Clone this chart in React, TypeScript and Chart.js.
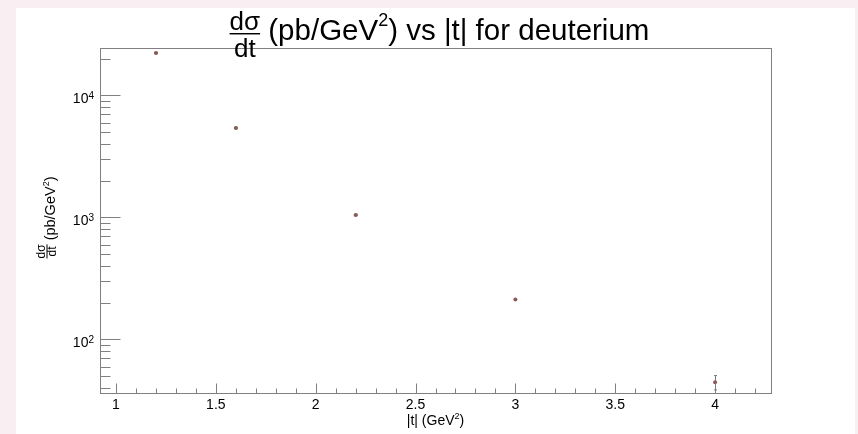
import React, { useEffect, useRef } from "react";
import { Chart, registerables } from "chart.js";

Chart.register(...registerables);

// Differential cross section dσ/dt for deuterium versus |t|
const tValues = [1.2, 1.6, 2.2, 3.0, 4.0];
const crossSection = [22300, 5420, 1048, 213, 44.6];
const crossSectionErr = [300, 70, 14, 3, 6];

// Axis ticks
const xMajorTicks = [1, 1.5, 2, 2.5, 3, 3.5, 4];
const xTickLabels = ["1", "1.5", "2", "2.5", "3", "3.5", "4"];
const yDecades = [100, 1000, 10000];
const yTickExponents = ["2", "3", "4"];

const X_MIN = 0.92;
const X_MAX = 4.28;
const Y_MIN = 36.4;
const Y_MAX = 24500;

const PAGE_BG = "#f9eef2";
const FRAME = "#808080";
const MARKER = "#8b5a52";
const ERR = "#7a7a7a";
const FONT = "'Liberation Sans', Arial, Helvetica, sans-serif";

type Part = { text: string; size: number; dy?: number };

function partsWidth(ctx: CanvasRenderingContext2D, parts: Part[]) {
  let w = 0;
  for (const p of parts) {
    ctx.font = `${p.size}px ${FONT}`;
    w += ctx.measureText(p.text).width;
  }
  return w;
}

function drawParts(ctx: CanvasRenderingContext2D, parts: Part[], x: number, y: number) {
  let cx = x;
  ctx.textAlign = "left";
  ctx.textBaseline = "alphabetic";
  for (const p of parts) {
    ctx.font = `${p.size}px ${FONT}`;
    ctx.fillText(p.text, cx, y + (p.dy || 0));
    cx += ctx.measureText(p.text).width;
  }
  return cx;
}

// Stacked fraction: numerator over denominator with a bar between
function drawFraction(
  ctx: CanvasRenderingContext2D,
  num: string,
  den: string,
  size: number,
  x: number,
  numBase: number,
  barY: number,
  denBase: number
) {
  ctx.font = `${size}px ${FONT}`;
  const wn = ctx.measureText(num).width;
  const wd = ctx.measureText(den).width;
  const w = Math.max(wn, wd);
  ctx.textAlign = "left";
  ctx.textBaseline = "alphabetic";
  ctx.fillText(num, x + (w - wn) / 2, numBase);
  ctx.fillText(den, x + (w - wd) / 2, denBase);
  ctx.fillRect(x, barY, w, Math.max(1, size / 18));
  return w;
}

const errorBars = {
  id: "errorBars",
  beforeDatasetsDraw(chart: any) {
    const { ctx, scales } = chart;
    ctx.save();
    ctx.strokeStyle = ERR;
    ctx.lineWidth = 1;
    tValues.forEach((t, i) => {
      const px = Math.round(scales.x.getPixelForValue(t)) + 0.5;
      const y1 = scales.y.getPixelForValue(crossSection[i] + crossSectionErr[i]);
      const y2 = scales.y.getPixelForValue(crossSection[i] - crossSectionErr[i]);
      ctx.beginPath();
      ctx.moveTo(px, y1);
      ctx.lineTo(px, y2);
      ctx.moveTo(px - 1.5, y1);
      ctx.lineTo(px + 1.5, y1);
      ctx.moveTo(px - 1.5, y2);
      ctx.lineTo(px + 1.5, y2);
      ctx.stroke();
    });
    ctx.restore();
  },
};

const framePlugin = {
  id: "rootFrame",
  afterDraw(chart: any) {
    const { ctx, chartArea: ca, scales } = chart;
    const left = Math.round(ca.left) + 0.5;
    const right = Math.round(ca.right) + 0.5;
    const top = Math.round(ca.top) + 0.5;
    const bottom = Math.round(ca.bottom) + 0.5;
    ctx.save();

    // frame
    ctx.strokeStyle = FRAME;
    ctx.lineWidth = 1;
    ctx.strokeRect(left, top, right - left, bottom - top);

    // x ticks, drawn inward from the bottom edge
    ctx.beginPath();
    for (let k = 10; k <= 42; k++) {
      const v = k / 10;
      if (v < X_MIN || v > X_MAX) continue;
      const major = xMajorTicks.some((m) => Math.abs(m - v) < 1e-9);
      const px = Math.round(scales.x.getPixelForValue(v)) + 0.5;
      ctx.moveTo(px, bottom);
      ctx.lineTo(px, bottom - (major ? 10 : 5));
    }
    // y ticks, drawn inward from the left edge
    for (const d of [10, 100, 1000, 10000]) {
      for (let m = 1; m <= 9; m++) {
        const v = m * d;
        if (v < Y_MIN || v > Y_MAX) continue;
        const py = Math.round(scales.y.getPixelForValue(v)) + 0.5;
        ctx.moveTo(left, py);
        ctx.lineTo(left + (m === 1 ? 20 : 10), py);
      }
    }
    ctx.stroke();

    ctx.fillStyle = "#000";

    // x tick labels
    ctx.font = `14px ${FONT}`;
    ctx.textAlign = "center";
    ctx.textBaseline = "alphabetic";
    xMajorTicks.forEach((v, i) => {
      ctx.fillText(xTickLabels[i], scales.x.getPixelForValue(v), ca.bottom + 16);
    });

    // y tick labels 10^n
    yDecades.forEach((v, i) => {
      const py = scales.y.getPixelForValue(v);
      const parts: Part[] = [
        { text: "10", size: 14 },
        { text: yTickExponents[i], size: 10, dy: -4.5 },
      ];
      const w = partsWidth(ctx, parts);
      drawParts(ctx, parts, ca.left - 6 - w, py + 8);
    });

    // x axis title
    {
      const parts: Part[] = [
        { text: "|t| (GeV", size: 14 },
        { text: "2", size: 9, dy: -6 },
        { text: ")", size: 14 },
      ];
      const w = partsWidth(ctx, parts);
      drawParts(ctx, parts, (ca.left + ca.right) / 2 - w / 2, ca.bottom + 32);
    }

    // y axis title, rotated
    {
      ctx.save();
      ctx.translate(ca.left, (ca.top + ca.bottom) / 2 - 3);
      ctx.rotate(-Math.PI / 2);
      const fracSize = 12;
      ctx.font = `${fracSize}px ${FONT}`;
      const fw = Math.max(ctx.measureText("dσ").width, ctx.measureText("dt").width);
      const parts: Part[] = [
        { text: " (pb/GeV", size: 14.5 },
        { text: "2", size: 9, dy: -6 },
        { text: ")", size: 14.5 },
      ];
      const mw = partsWidth(ctx, parts);
      const x0 = -(fw + mw) / 2;
      drawFraction(ctx, "dσ", "dt", fracSize, x0, -55.5, -53.5, -44.5);
      drawParts(ctx, parts, x0 + fw, -45);
      ctx.restore();
    }

    // chart title
    {
      const fracSize = 26;
      const size = 29.5;
      ctx.font = `${fracSize}px ${FONT}`;
      const fw = Math.max(ctx.measureText("dσ").width, ctx.measureText("dt").width);
      const parts: Part[] = [
        { text: " (pb/GeV", size },
        { text: "2", size: 18, dy: -14 },
        { text: ") vs |t| for deuterium", size },
      ];
      const mw = partsWidth(ctx, parts);
      const x0 = (ca.left + ca.right) / 2 + 4 - (fw + mw) / 2;
      drawFraction(ctx, "dσ", "dt", fracSize, x0, ca.top - 18, ca.top - 15, ca.top + 9);
      drawParts(ctx, parts, x0 + fw, ca.top - 8);
    }

    ctx.restore();
  },
};

export default function App() {
  const ref = useRef<HTMLCanvasElement>(null);

  useEffect(() => {
    const canvas = ref.current;
    if (!canvas) return;
    const chart = new Chart(canvas, {
      type: "scatter",
      data: {
        datasets: [
          {
            data: tValues.map((t, i) => ({ x: t, y: crossSection[i] })),
            backgroundColor: MARKER,
            borderWidth: 0,
            pointRadius: 2,
            pointHoverRadius: 2,
          },
        ],
      },
      options: {
        responsive: false,
        animation: false,
        devicePixelRatio: 1,
        events: [],
        layout: { padding: { left: 84, right: 84, top: 40, bottom: 41 } },
        plugins: {
          legend: { display: false },
          tooltip: { enabled: false },
          title: { display: false },
        },
        scales: {
          x: { type: "linear", min: X_MIN, max: X_MAX, display: false },
          y: { type: "logarithmic", min: Y_MIN, max: Y_MAX, display: false },
        },
      },
      plugins: [errorBars, framePlugin],
    });
    return () => chart.destroy();
  }, []);

  return (
    <div style={{ position: "fixed", inset: 0, background: PAGE_BG }}>
      <canvas
        ref={ref}
        width={839}
        height={426}
        style={{ position: "absolute", left: 16, top: 8, width: 839, height: 426, background: "#fff" }}
      />
    </div>
  );
}
